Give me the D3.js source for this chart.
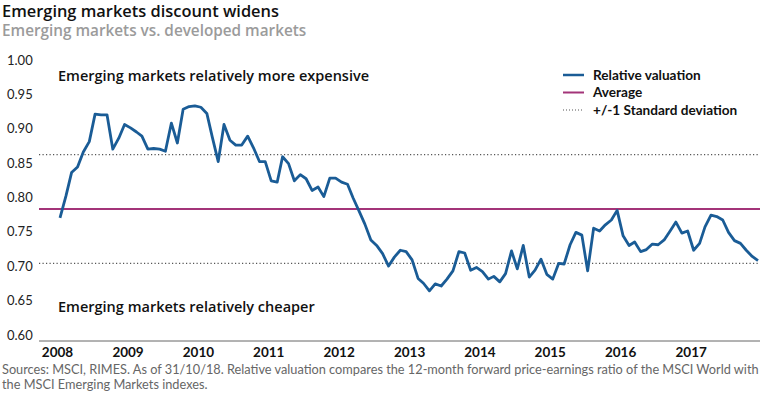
<!DOCTYPE html>
<html>
<head>
<meta charset="utf-8">
<script src="https://cdn.jsdelivr.net/npm/d3@7"></script>
<style>
    body { margin: 0; background: #fff; }
    svg { display: block; font-family: Lato, "Noto Sans", sans-serif; }
    .wide { font-family: "Open Sans", Lato, sans-serif; }
</style>
</head>
<body>
<script>
// monthly relative valuation, Jan 2008 .. Dec 2017
var startMonth = "2008-01";
var relValues = [
    0.779, 0.811, 0.845, 0.853, 0.875, 0.890, 0.930, 0.929, 0.929, 0.879, 0.895, 0.915,
    0.910, 0.904, 0.898, 0.879, 0.880, 0.879, 0.876, 0.917, 0.888, 0.937, 0.941, 0.942,
    0.940, 0.931, 0.897, 0.861, 0.915, 0.892, 0.885, 0.885, 0.898, 0.881, 0.861, 0.861,
    0.833, 0.831, 0.868, 0.858, 0.833, 0.842, 0.836, 0.819, 0.824, 0.810, 0.837, 0.837,
    0.831, 0.828, 0.808, 0.789, 0.770, 0.747, 0.739, 0.727, 0.709, 0.722, 0.732, 0.730,
    0.718, 0.691, 0.684, 0.673, 0.683, 0.680, 0.690, 0.702, 0.730, 0.728, 0.703, 0.707,
    0.701, 0.690, 0.694, 0.686, 0.698, 0.731, 0.705, 0.739, 0.693, 0.703, 0.719, 0.697,
    0.690, 0.713, 0.712, 0.740, 0.758, 0.754, 0.702, 0.764, 0.760, 0.769, 0.776, 0.790,
    0.753, 0.739, 0.744, 0.730, 0.733, 0.741, 0.740, 0.747, 0.760, 0.773, 0.757, 0.760,
    0.732, 0.742, 0.766, 0.783, 0.781, 0.776, 0.758, 0.746, 0.742, 0.732, 0.723, 0.717
];
var averageValue = 0.792;
var upperBand = 0.871;
var lowerBand = 0.713;

var yTicks = [0.60, 0.65, 0.70, 0.75, 0.80, 0.85, 0.90, 0.95, 1.00];
var yearLabels = [2008, 2009, 2010, 2011, 2012, 2013, 2014, 2015, 2016, 2017];

var legendItems = ["Relative valuation", "Average", "+/-1 Standard deviation"];

var titleText = "Emerging markets discount widens";
var subtitleText = "Emerging markets vs. developed markets";
var noteTop = "Emerging markets relatively more expensive";
var noteBottom = "Emerging markets relatively cheaper";
var sourceLines = [
    "Sources: MSCI, RIMES. As of 31/10/18. Relative valuation compares the 12-month forward price-earnings ratio of the MSCI World with",
    "the MSCI Emerging Markets indexes."
];

var BLUE = "#1a5c96", MAGENTA = "#a33479", DOTS = "#555";

var width = 765, height = 398;
var parseMonth = d3.timeParse("%Y-%m");
var firstMonth = parseMonth(startMonth);

var series = relValues.map(function (v, i) {
    return {date: d3.timeMonth.offset(firstMonth, i), value: v};
});

var x = d3.scaleTime()
    .domain([firstMonth, series[series.length - 1].date])
    .range([60, 758]);

var y = d3.scaleLinear()
    .domain([0.60, 1.00])
    .range([341, 66]);

var svg = d3.select("body").append("svg")
    .attr("width", width)
    .attr("height", height);

// titles
svg.append("text")
    .attr("class", "wide")
    .attr("x", 2).attr("y", 17)
    .attr("font-size", "16.4px").attr("font-weight", 600)
    .attr("fill", "#111")
    .text(titleText);

svg.append("text")
    .attr("class", "wide")
    .attr("x", 2).attr("y", 36)
    .attr("font-size", "15.3px").attr("font-weight", 600)
    .attr("fill", "#9b9b9b")
    .text(subtitleText);

// y labels (sit a little above their value)
svg.append("g").selectAll("text")
    .data(yTicks)
    .enter().append("text")
    .attr("x", 7)
    .attr("y", function (d) { return y(d) - 6; })
    .attr("dy", "0.35em")
    .attr("font-size", "13px")
    .attr("fill", "#222")
    .text(d3.format(".2f"));

// x axis
var xAxis = d3.axisBottom(x)
    .tickValues(yearLabels.map(function (yr) { return new Date(yr, 0, 1); }))
    .tickSize(0)
    .tickPadding(6)
    .tickFormat(d3.timeFormat("%Y"));

var axisG = svg.append("g")
    .attr("transform", "translate(0," + y(0.60) + ")")
    .call(xAxis);

axisG.select(".domain").remove();
axisG.selectAll("text")
    .attr("dx", "-3")
    .attr("font-family", "Lato, sans-serif")
    .attr("font-size", "13.5px")
    .attr("font-weight", 700)
    .attr("fill", "#111");

svg.append("line")
    .attr("x1", 39).attr("x2", 760)
    .attr("y1", y(0.60)).attr("y2", y(0.60))
    .attr("stroke", "#666").attr("stroke-width", 1);

// reference lines
[upperBand, lowerBand].forEach(function (v) {
    svg.append("line")
        .attr("x1", 39).attr("x2", 760)
        .attr("y1", y(v)).attr("y2", y(v))
        .attr("stroke", DOTS).attr("stroke-width", 1.2)
        .attr("stroke-dasharray", "1.2,2.3");
});

svg.append("line")
    .attr("x1", 39).attr("x2", 760)
    .attr("y1", y(averageValue)).attr("y2", y(averageValue))
    .attr("stroke", MAGENTA).attr("stroke-width", 1.8);

// relative valuation line
var line = d3.line()
    .x(function (d) { return x(d.date); })
    .y(function (d) { return y(d.value); });

svg.append("path")
    .datum(series)
    .attr("d", line)
    .attr("fill", "none")
    .attr("stroke", BLUE)
    .attr("stroke-width", 2.8)
    .attr("stroke-linejoin", "round");

// notes inside the plot
svg.append("text")
    .attr("class", "wide")
    .attr("x", 58).attr("y", 81)
    .attr("font-size", "14.5px").attr("font-weight", 600)
    .attr("fill", "#111")
    .text(noteTop);

svg.append("text")
    .attr("class", "wide")
    .attr("x", 58).attr("y", 312)
    .attr("font-size", "14.5px").attr("font-weight", 600)
    .attr("fill", "#111")
    .text(noteBottom);

// legend
var legend = svg.append("g").attr("transform", "translate(563,75)");
legendItems.forEach(function (name, i) {
    var g = legend.append("g").attr("transform", "translate(0," + (i * 17.5) + ")");
    var ln = g.append("line")
        .attr("x1", 0).attr("x2", 21)
        .attr("y1", 0).attr("y2", 0);
    if (i === 0) ln.attr("stroke", BLUE).attr("stroke-width", 2.5);
    if (i === 1) ln.attr("stroke", MAGENTA).attr("stroke-width", 2);
    if (i === 2) ln.attr("stroke", DOTS).attr("stroke-width", 1).attr("stroke-dasharray", "1,2");
    g.append("text")
        .attr("x", 30).attr("dy", "0.35em")
        .attr("font-size", "13.6px").attr("font-weight", 700)
        .attr("fill", "#111")
        .text(name);
});

// footnote
svg.append("g").selectAll("text")
    .data(sourceLines)
    .enter().append("text")
    .attr("x", 2)
    .attr("y", function (d, i) { return 374 + i * 15; })
    .attr("font-size", "12.75px")
    .attr("fill", "#666")
    .text(function (d) { return d; });
</script>
</body>
</html>
